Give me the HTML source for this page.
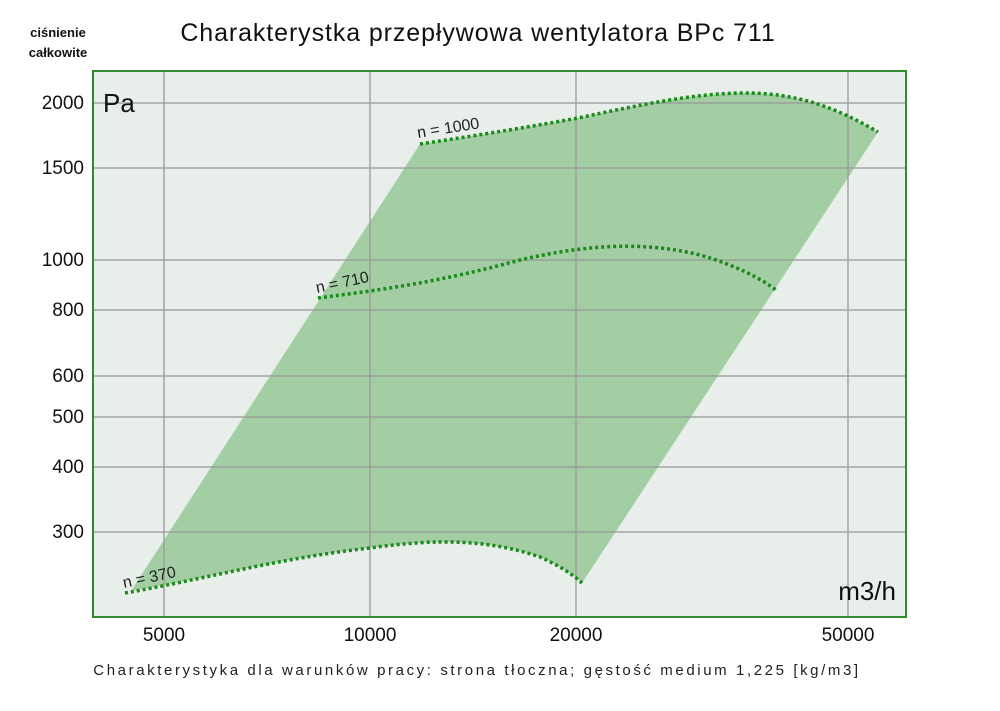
<!DOCTYPE html>
<html><head><meta charset="utf-8"><style>body{margin:0;background:#fff}</style></head><body>
<svg width="1000" height="706" xmlns="http://www.w3.org/2000/svg" font-family="Liberation Sans, DejaVu Sans, sans-serif">
<rect x="0" y="0" width="1000" height="706" fill="#fff"/>
<rect x="93" y="71" width="813" height="546" fill="#e8eee9"/>
<path d="M131,591 L420,144 C480,135 540,125 578,118 C640,105 690,94 740,93 C800,92 840,110 878,132 L582,583 C572,574 560,566 540,557 C490,540 440,538 370,548 C280,558 200,580 131,591 Z" fill="#a3cda3"/>
<g stroke="#999" stroke-width="1.3">
<line x1="164" y1="71" x2="164" y2="617"/><line x1="370" y1="71" x2="370" y2="617"/>
<line x1="576" y1="71" x2="576" y2="617"/><line x1="848" y1="71" x2="848" y2="617"/>
<line x1="93" y1="103" x2="906" y2="103"/><line x1="93" y1="168" x2="906" y2="168"/>
<line x1="93" y1="260" x2="906" y2="260"/><line x1="93" y1="310" x2="906" y2="310"/>
<line x1="93" y1="376" x2="906" y2="376"/><line x1="93" y1="417" x2="906" y2="417"/>
<line x1="93" y1="467" x2="906" y2="467"/><line x1="93" y1="532" x2="906" y2="532"/>
</g>
<rect x="93" y="71" width="813" height="546" fill="none" stroke="#2e8b2e" stroke-width="2"/>
<g fill="none" stroke="#1a8a1a" stroke-width="3.5" stroke-dasharray="3,3">
<path d="M420,144 C480,135 540,125 578,118 C640,105 690,94 740,93 C800,92 840,110 878,132"/>
<path d="M318,298 C380,290 440,282 520,260 C580,246 640,240 700,255 C735,265 760,278 776,290"/>
<path d="M125,593 C200,580 280,558 370,548 C440,538 490,540 540,557 C560,566 572,574 582,583"/>
</g>
<g font-size="16" fill="#222">
<text transform="translate(418,138) rotate(-9)">n = 1000</text>
<text transform="translate(317,293) rotate(-12)">n = 710</text>
<text transform="translate(124,588) rotate(-12)">n = 370</text>
</g>
<text x="103" y="112" font-size="26" fill="#111">Pa</text>
<text x="896" y="600" font-size="26" fill="#111" text-anchor="end">m3/h</text>
<g font-size="19" fill="#111" text-anchor="end">
<text x="84" y="109">2000</text><text x="84" y="174">1500</text><text x="84" y="266">1000</text>
<text x="84" y="316">800</text><text x="84" y="382">600</text><text x="84" y="423">500</text>
<text x="84" y="473">400</text><text x="84" y="538">300</text>
</g>
<g font-size="19" fill="#111" text-anchor="middle">
<text x="164" y="641">5000</text><text x="370" y="641">10000</text><text x="576" y="641">20000</text><text x="848" y="641">50000</text>
</g>
<text x="478" y="41" font-size="25" fill="#111" text-anchor="middle" letter-spacing="0.9">Charakterystka przepływowa wentylatora BPc 711</text>
<text x="58" y="37" font-size="13" font-weight="bold" fill="#111" text-anchor="middle">ciśnienie</text>
<text x="58" y="57" font-size="13" font-weight="bold" fill="#111" text-anchor="middle">całkowite</text>
<text x="477" y="675" font-size="15" fill="#222" text-anchor="middle" letter-spacing="2.6">Charakterystyka dla warunków pracy: strona tłoczna; gęstość medium 1,225 [kg/m3]</text>
</svg>
</body></html>
